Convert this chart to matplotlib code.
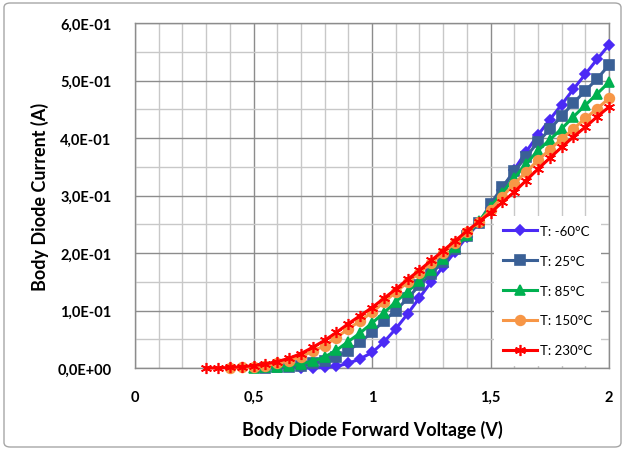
import matplotlib.pyplot as plt
import numpy as np
from matplotlib.patches import FancyBboxPatch
from matplotlib.ticker import MultipleLocator, FixedLocator, FixedFormatter

plt.rcParams['font.family'] = ['Lato', 'DejaVu Sans']

# forward voltage (V), 0.05 V steps
voltage = np.round(np.arange(0.30, 2.001, 0.05), 2)

nan = np.nan
# body diode current (A) for each temperature, nan where no point was measured
i_m60 = [nan, nan, nan, nan, nan, nan, nan, nan,
         0.0, 0.0, 0.001, 0.003, 0.008, 0.016, 0.027, 0.045, 0.068, 0.094, 0.122,
         0.15, 0.176, 0.202, 0.228, 0.252, 0.278, 0.31, 0.345, 0.376, 0.405,
         0.432, 0.458, 0.485, 0.511, 0.537, 0.562]
i_25 = [nan, nan, nan, nan, nan,
        0.0, 0.001, 0.002, 0.004, 0.008, 0.012, 0.019, 0.03, 0.045, 0.062, 0.082,
        0.1, 0.121, 0.144, 0.164, 0.185, 0.207, 0.23, 0.252, 0.285, 0.315, 0.342,
        0.367, 0.393, 0.415, 0.438, 0.461, 0.482, 0.503, 0.527]
i_85 = [nan, nan, nan, nan,
        0.0, 0.001, 0.002, 0.004, 0.007, 0.012, 0.019, 0.031, 0.046, 0.061, 0.078,
        0.096, 0.115, 0.133, 0.151, 0.17, 0.19, 0.21, 0.231, 0.255, 0.28, 0.305,
        0.33, 0.355, 0.378, 0.397, 0.416, 0.437, 0.457, 0.477, 0.497]
i_150 = [nan, nan,
         0.0, 0.001, 0.002, 0.004, 0.008, 0.013, 0.02, 0.029, 0.039, 0.053, 0.068,
         0.082, 0.097, 0.114, 0.132, 0.149, 0.166, 0.183, 0.2, 0.218, 0.236, 0.254,
         0.275, 0.298, 0.32, 0.341, 0.361, 0.38, 0.398, 0.416, 0.434, 0.451, 0.469]
i_230 = [0.0, 0.0, 0.001, 0.002, 0.004, 0.007, 0.011, 0.017, 0.025, 0.036, 0.048,
         0.062, 0.077, 0.091, 0.105, 0.121, 0.137, 0.154, 0.17, 0.187, 0.204,
         0.221, 0.238, 0.254, 0.27, 0.288, 0.306, 0.326, 0.346, 0.365, 0.384,
         0.402, 0.419, 0.437, 0.454]

series_labels = ['T: -60°C', 'T: 25°C', 'T: 85°C', 'T: 150°C', 'T: 230°C']
colors = ['#4b2af5', '#3a6096', '#00b050', '#f79646', '#ff0000']
markers = ['D', 's', '^', 'o', (6, 2, 0)]
msizes = [5, 7, 7, 7, 8]

x_ticks = [0, 0.5, 1, 1.5, 2]
x_ticklabels = ['0', '0,5', '1', '1,5', '2']
y_ticks = [0, 0.1, 0.2, 0.3, 0.4, 0.5, 0.6]
y_ticklabels = ['0,0E+00', '1,0E-01', '2,0E-01', '3,0E-01', '4,0E-01',
                '5,0E-01', '6,0E-01']

fig = plt.figure(figsize=(6.25, 4.52), dpi=100)
ax = fig.add_axes([135 / 625, 1 - 369 / 452, 474 / 625, 345 / 452])

# rounded chart border like the Excel chart area
fig.patches.append(FancyBboxPatch((4 / 625, 4 / 452), 617 / 625, 444 / 452,
                                  boxstyle='round,pad=0,rounding_size=0.01',
                                  transform=fig.transFigure, facecolor='none',
                                  edgecolor='#a6a6a6', linewidth=1.0))

for ys, lab, c, m, ms in zip([i_m60, i_25, i_85, i_150, i_230], series_labels,
                             colors, markers, msizes):
    ax.plot(voltage, ys, color=c, lw=2.2, marker=m, markersize=ms,
            markeredgecolor=c, markerfacecolor=c, markeredgewidth=1.2,
            label=lab, clip_on=False, zorder=3)

ax.set_xlim(0, 2)
ax.set_ylim(0, 0.6)
ax.xaxis.set_major_locator(FixedLocator(x_ticks))
ax.xaxis.set_major_formatter(FixedFormatter(x_ticklabels))
ax.yaxis.set_major_locator(FixedLocator(y_ticks))
ax.yaxis.set_major_formatter(FixedFormatter(y_ticklabels))
ax.xaxis.set_minor_locator(MultipleLocator(0.1))
ax.yaxis.set_minor_locator(MultipleLocator(0.05))
ax.grid(which='major', color='#8c8c8c', lw=1.0, zorder=0)
ax.grid(which='minor', color='#c8c8c8', lw=1.0, zorder=0)
ax.set_axisbelow(True)
ax.tick_params(which='both', length=0)
ax.tick_params(axis='x', pad=16, labelsize=10.5)
ax.tick_params(axis='y', pad=17, labelsize=10.5)
for lbl in ax.get_xticklabels() + ax.get_yticklabels():
    lbl.set_fontweight('bold')
for s in ax.spines.values():
    s.set_color('#8c8c8c')
    s.set_linewidth(1.0)

ax.set_xlabel('Body Diode Forward Voltage (V)', fontsize=13, fontweight='bold',
              labelpad=11)
ax.set_ylabel('Body Diode Current (A)', fontsize=13, fontweight='bold',
              labelpad=6)

leg = ax.legend(loc='lower right', bbox_to_anchor=(0.998, -0.012), frameon=True,
                fontsize=9.5, handlelength=2.6, labelspacing=1.35,
                borderpad=0.7, handletextpad=0.2, fancybox=False)
leg.get_frame().set_facecolor('white')
leg.get_frame().set_edgecolor('none')
leg.get_frame().set_alpha(1)
leg.set_zorder(5)

fig.savefig('out.png', dpi=100)
